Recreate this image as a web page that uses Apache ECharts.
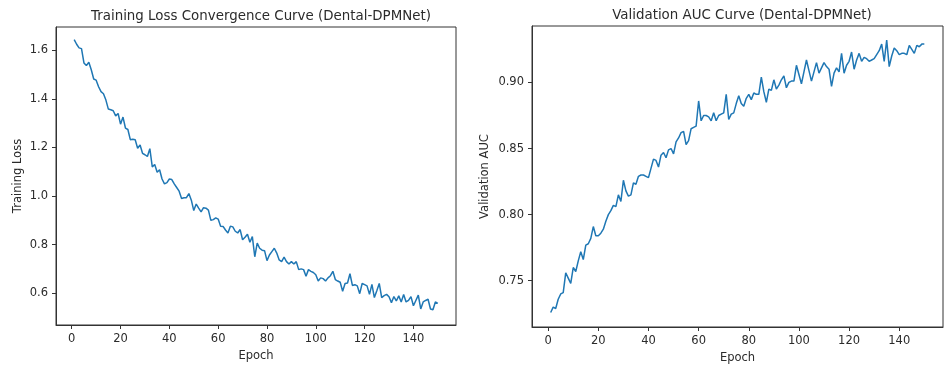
<!DOCTYPE html>
<html>
<head>
<meta charset="utf-8">
<script src="https://cdn.jsdelivr.net/npm/echarts@6/dist/echarts.min.js"></script>
<style>
html,body{margin:0;padding:0;background:#fff;}
#c{width:945px;height:369px;}
</style>
</head>
<body>
<div id="c"></div>
<script>
// ---- data ----
const epochs = Array.from({length:150}, (_, i) => i + 1);
const trainLoss = [
1.644,1.625,1.610,1.607,1.548,1.537,1.551,1.520,1.482,1.477,
1.450,1.430,1.421,1.395,1.358,1.355,1.351,1.330,1.340,1.296,
1.325,1.280,1.274,1.232,1.234,1.232,1.197,1.210,1.176,1.170,
1.163,1.195,1.120,1.130,1.098,1.108,1.070,1.050,1.055,1.070,
1.068,1.050,1.035,1.020,0.990,0.993,0.993,1.010,0.983,0.940,
0.967,0.950,0.935,0.952,0.950,0.942,0.900,0.903,0.910,0.905,
0.876,0.875,0.860,0.848,0.876,0.873,0.855,0.848,0.862,0.820,
0.830,0.843,0.810,0.833,0.750,0.806,0.785,0.777,0.775,0.734,
0.757,0.771,0.785,0.765,0.737,0.730,0.748,0.730,0.720,0.730,
0.720,0.730,0.697,0.700,0.697,0.670,0.697,0.690,0.685,0.676,
0.650,0.663,0.660,0.650,0.663,0.672,0.690,0.656,0.650,0.645,
0.608,0.640,0.642,0.680,0.632,0.635,0.630,0.598,0.640,0.635,
0.630,0.595,0.636,0.582,0.610,0.640,0.582,0.590,0.595,0.585,
0.561,0.586,0.568,0.589,0.564,0.595,0.564,0.570,0.586,0.548,
0.570,0.592,0.535,0.564,0.570,0.575,0.535,0.532,0.564,0.558
];
const valAuc = [
0.726,0.730,0.729,0.736,0.740,0.741,0.756,0.752,0.748,0.760,
0.757,0.765,0.772,0.766,0.777,0.778,0.782,0.791,0.784,0.784,
0.786,0.789,0.795,0.800,0.803,0.807,0.806,0.815,0.810,0.826,
0.818,0.814,0.815,0.824,0.823,0.829,0.830,0.830,0.829,0.828,
0.835,0.842,0.841,0.836,0.845,0.847,0.843,0.849,0.850,0.846,
0.855,0.858,0.862,0.863,0.853,0.856,0.865,0.866,0.867,0.886,
0.871,0.875,0.875,0.874,0.871,0.877,0.871,0.875,0.876,0.877,
0.891,0.872,0.876,0.877,0.884,0.890,0.884,0.882,0.888,0.891,
0.887,0.892,0.891,0.891,0.904,0.893,0.885,0.895,0.894,0.902,
0.895,0.898,0.902,0.905,0.896,0.900,0.901,0.901,0.913,0.906,
0.899,0.908,0.917,0.909,0.901,0.908,0.915,0.907,0.911,0.915,
0.912,0.910,0.897,0.907,0.911,0.908,0.922,0.907,0.913,0.916,
0.923,0.910,0.917,0.922,0.916,0.919,0.918,0.916,0.917,0.918,
0.921,0.924,0.929,0.916,0.932,0.912,0.920,0.926,0.924,0.921,
0.922,0.922,0.921,0.928,0.925,0.922,0.928,0.927,0.929,0.929
];
const xTicks = [0, 20, 40, 60, 80, 100, 120, 140];
const lossTicks = [0.6, 0.8, 1.0, 1.2, 1.4, 1.6];
const aucTicks = [0.75, 0.80, 0.85, 0.90];
const titles = ['Training Loss Convergence Curve (Dental-DPMNet)', 'Validation AUC Curve (Dental-DPMNet)'];
const yNames = ['Training Loss', 'Validation AUC'];
const xName = 'Epoch';

// ---- chart ----
const FONT = 'DejaVu Sans';
const TXT = '#2b2b2b';
const AX = '#333';
const FS = 11.5;
const chart = echarts.init(document.getElementById('c'), null, {renderer: 'canvas'});

function xAxis(gi) {
  return {
    type: 'value', gridIndex: gi, min: -6.45, max: 157.45,
    name: xName, nameLocation: 'middle', nameGap: 25,
    nameTextStyle: {fontFamily: FONT, fontSize: FS, color: TXT},
    axisLine: {show: true, onZero: false, lineStyle: {color: AX, width: 1}},
    axisTick: {show: true, inside: false, length: 4, lineStyle: {color: AX, width: 1}, customValues: xTicks},
    axisLabel: {show: true, customValues: xTicks, fontFamily: FONT, fontSize: FS, color: TXT, margin: 8},
    splitLine: {show: false}
  };
}
function yAxis(gi, min, max, ticks, dec, gap) {
  return {
    type: 'value', gridIndex: gi, min: min, max: max,
    name: yNames[gi], nameLocation: 'middle', nameGap: gap, nameRotate: 90,
    nameTextStyle: {fontFamily: FONT, fontSize: FS, color: TXT},
    axisLine: {show: true, onZero: false, lineStyle: {color: AX, width: 1}},
    axisTick: {show: true, inside: false, length: 4, lineStyle: {color: AX, width: 1}, customValues: ticks},
    axisLabel: {show: true, customValues: ticks, fontFamily: FONT, fontSize: FS, color: TXT, margin: 8,
      formatter: v => Number(v).toFixed(dec)},
    splitLine: {show: false}
  };
}

chart.setOption({
  animation: false,
  backgroundColor: '#fff',
  title: [
    {text: titles[0], left: 256, top: 5, textAlign: 'center',
     textStyle: {fontFamily: FONT, fontSize: 13.4, fontWeight: 'normal', color: TXT}},
    {text: titles[1], left: 737, top: 4, textAlign: 'center',
     textStyle: {fontFamily: FONT, fontSize: 13.4, fontWeight: 'normal', color: TXT}}
  ],
  grid: [
    {left: 56, top: 27, width: 400, height: 298, show: true, borderColor: AX, borderWidth: 1, backgroundColor: 'transparent'},
    {left: 532, top: 26, width: 411, height: 307, show: true, borderColor: AX, borderWidth: 1, backgroundColor: 'transparent'}
  ],
  xAxis: [xAxis(0), xAxis(1)],
  yAxis: [
    yAxis(0, 0.469, 1.696, lossTicks, 1, 32),
    yAxis(1, 0.715, 0.9427, aucTicks, 2, 41)
  ],
  series: [
    {type: 'line', xAxisIndex: 0, yAxisIndex: 0, data: epochs.map((e, i) => [e, trainLoss[i]]),
     showSymbol: false, lineStyle: {color: '#1f77b4', width: 1.5}, itemStyle: {color: '#1f77b4'}},
    {type: 'line', xAxisIndex: 1, yAxisIndex: 1, data: epochs.map((e, i) => [e, valAuc[i]]),
     showSymbol: false, lineStyle: {color: '#1f77b4', width: 1.5}, itemStyle: {color: '#1f77b4'}}
  ]
});
</script>
</body>
</html>
